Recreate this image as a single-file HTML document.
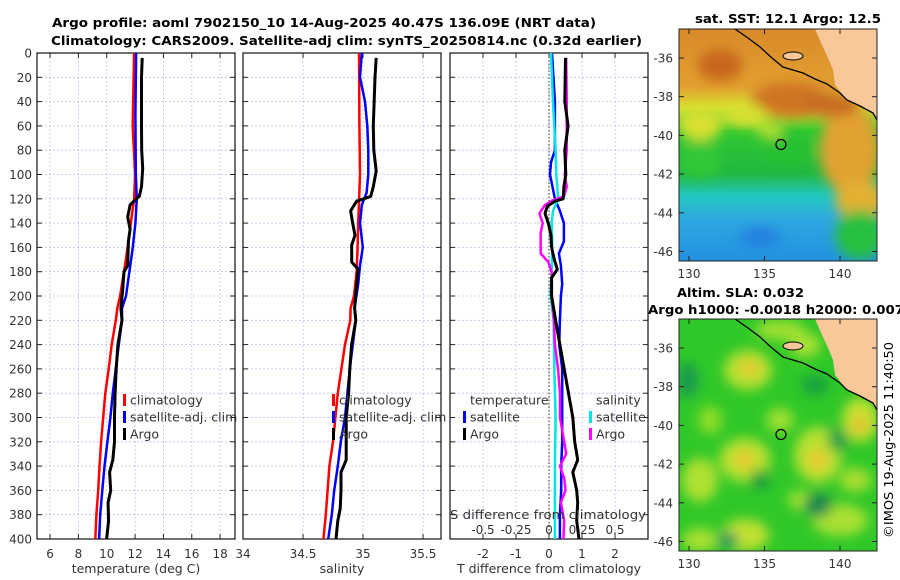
<!DOCTYPE html>
<html><head><meta charset="utf-8"><style>
html,body{margin:0;padding:0;background:#fff;}
svg{display:block;font-family:"DejaVu Sans","Liberation Sans",sans-serif;}
</style></head><body>
<svg id="fig" width="900" height="580" viewBox="0 0 900 580" xmlns="http://www.w3.org/2000/svg">
<defs>
<filter id="blur6" x="-20%" y="-20%" width="140%" height="140%"><feGaussianBlur stdDeviation="6"/></filter>
<clipPath id="clipTop"><rect x="679" y="29" width="198" height="232"/></clipPath>
<clipPath id="clipBot"><rect x="679" y="319" width="198" height="232"/></clipPath>
<linearGradient id="sstGrad" x1="0" y1="0" x2="0" y2="1">
<stop offset="0" stop-color="#d98a2a"/><stop offset="0.25" stop-color="#e2a030"/>
<stop offset="0.34" stop-color="#d8e030"/><stop offset="0.44" stop-color="#30c830"/>
<stop offset="0.62" stop-color="#22b840"/><stop offset="0.72" stop-color="#20c8c0"/>
<stop offset="0.82" stop-color="#30a8e0"/><stop offset="1" stop-color="#2290e0"/>
</linearGradient>
</defs>
<g id="titles">
<text x="52" y="27" font-size="12.5" font-weight="bold" textLength="544" lengthAdjust="spacingAndGlyphs">Argo profile: aoml 7902150_10 14-Aug-2025 40.47S 136.09E (NRT data)</text>
<text x="51" y="45" font-size="12.5" font-weight="bold" textLength="591" lengthAdjust="spacingAndGlyphs">Climatology: CARS2009. Satellite-adj clim: synTS_20250814.nc (0.32d earlier)</text>
<text x="695" y="23" font-size="12.5" font-weight="bold" textLength="186" lengthAdjust="spacingAndGlyphs">sat. SST: 12.1 Argo: 12.5</text>
<text x="677" y="297" font-size="12.5" font-weight="bold" textLength="127" lengthAdjust="spacingAndGlyphs">Altim. SLA: 0.032</text>
<text x="648" y="314" font-size="12.5" font-weight="bold" textLength="256" lengthAdjust="spacingAndGlyphs">Argo h1000: -0.0018 h2000: 0.007</text>
<text transform="translate(893,440) rotate(-90)" text-anchor="middle" font-size="12" textLength="196" lengthAdjust="spacingAndGlyphs">©IMOS 19-Aug-2025 11:40:50</text>
</g>
<g id="panels"></g>
<g id="maps"></g>
</svg>
<script>
// ---------- data ----------
const climDepth = [0,60,100,120,140,160,180,200,210,220,240,260,280,300,320,340,360,380,400];
const climTemp  = [11.93,11.83,12.0,11.93,11.7,11.48,11.22,10.94,10.75,10.64,10.35,10.14,9.9,9.75,9.6,9.49,9.4,9.27,9.19];
const satDepth  = [0,50,100,120,140,160,180,200,210,220,240,260,280,300,320,340,360,380,400];
const satTemp   = [12.07,12.02,12.05,12.12,12.02,11.84,11.6,11.36,11.08,11.08,10.85,10.64,10.43,10.26,10.05,9.84,9.69,9.54,9.46];
const argoTDepth= [4,20,60,80,95,110,118,121,125,135,145,155,175,180,195,210,220,240,260,280,300,320,335,345,360,370,385,400];
const argoTemp  = [12.5,12.45,12.45,12.47,12.54,12.45,12.3,12.0,11.65,11.48,11.65,11.53,11.48,11.22,11.13,11.0,11.08,10.79,10.67,10.59,10.55,10.55,10.43,10.2,10.28,10.1,10.13,9.99];

const climSDepth= [0,60,100,140,160,180,200,210,220,240,260,280,300,320,340,360,380,400];
const climSal   = [34.967,34.97,34.975,34.96,34.955,34.947,34.925,34.897,34.894,34.85,34.82,34.79,34.77,34.75,34.72,34.705,34.69,34.67];
const satSDepth = [0,20,40,60,80,100,115,125,140,160,175,190,210,220,240,260,280,300,320,340,360,380,400];
const satSal    = [34.99,34.975,35.017,35.036,35.044,35.044,35.03,34.99,34.975,34.998,34.975,34.96,34.93,34.94,34.915,34.89,34.87,34.85,34.815,34.79,34.76,34.74,34.71];
const argoSDepth= [4,20,60,80,97,110,118,122,130,140,150,158,172,178,190,210,220,240,260,280,300,320,335,345,360,375,385,400];
const argoSal   = [35.11,35.1,35.086,35.09,35.11,35.086,35.064,34.947,34.897,34.914,34.933,34.906,34.906,34.96,34.947,34.93,34.94,34.905,34.89,34.88,34.86,34.86,34.86,34.817,34.817,34.81,34.79,34.775];

const dTsatDepth = [0,40,80,90,100,120,130,140,155,165,175,190,200,220,240,260,280,300,320,340,360,380,400];
const dTsat      = [0.09,0.18,0.18,0.06,0.03,0.18,0.33,0.45,0.45,0.3,0.36,0.4,0.36,0.33,0.31,0.4,0.4,0.4,0.4,0.37,0.37,0.33,0.33];
const dTargoDepth= [4,40,60,80,100,110,120,122,126,132,140,150,160,170,178,185,200,220,240,260,280,300,320,335,345,360,370,385,400];
const dTargo     = [0.5,0.48,0.58,0.48,0.51,0.45,0.43,0.18,-0.05,-0.12,-0.02,0.06,0.08,0.16,0.25,0.08,0.08,0.2,0.33,0.46,0.59,0.72,0.78,0.87,0.72,0.84,0.87,0.84,0.91];
const dSsatDepth = [0,40,80,100,120,130,140,160,180,200,220,260,300,340,400];
const dSsat      = [0.015,0.03,0.05,0.055,0.07,0.03,0.02,0.025,0.02,0.012,0.035,0.04,0.05,0.045,0.045];
const dSargoDepth= [4,40,80,100,110,118,121,125,132,140,148,165,172,180,200,220,240,260,280,300,320,330,340,350,360,370,385,400];
const dSargo     = [0.13,0.134,0.134,0.12,0.134,0.114,0.033,-0.03,-0.073,-0.048,-0.063,-0.063,-0.005,0.02,0.02,0.038,0.045,0.068,0.083,0.083,0.115,0.13,0.083,0.115,0.125,0.09,0.115,0.109];

const depthTicks = [0,20,40,60,80,100,120,140,160,180,200,220,240,260,280,300,320,340,360,380,400];
const tempTicks = [6,8,10,12,14,16,18];
const salTicks = [34,34.5,35,35.5];
const salTickLabels = ['34','34.5','35','35.5'];
const dTTicks = [-2,-1,0,1,2];
const dSTicks = [-0.5,-0.25,0,0.25,0.5];
const dSTickLabels = ['-0.5','-0.25','0','0.25','0.5'];
const lonTicks = [130,135,140];
const latTicks = [-36,-38,-40,-42,-44,-46];
const argoLon = 136.09, argoLat = -40.47;

// ---------- helpers ----------
const NS='http://www.w3.org/2000/svg';
function mk(tag, attrs, parent){const e=document.createElementNS(NS,tag);for(const k in attrs)e.setAttribute(k,attrs[k]);parent.appendChild(e);return e;}
const Y0=53, Y1=539;
const yD = d => Y0 + d*(Y1-Y0)/400;
const panelsG=document.getElementById('panels');

function axis(x0,x1,lo,hi){return v => x0 + (v-lo)/(hi-lo)*(x1-x0);}
const xT = axis(37,235,5.08,19.05);
const xS = axis(243,441,34,35.65);
const xD = axis(450,648,-3,3);
const xDS = axis(450,648,-0.75,0.75);

function polyline(parent, depths, vals, xf, color, w, name){
  const pts = depths.map((d,i)=>xf(vals[i]).toFixed(1)+','+yD(d).toFixed(1)).join(' ');
  const p = mk('polyline',{points:pts,fill:'none',stroke:color,'stroke-width':w,'stroke-linejoin':'round'},parent);
  
  
}

function panel(name,x0,x1,xticks,xf,labels,xlabel,showY){
  const g=mk('g',{},panelsG);
  
  
  depthTicks.forEach(d=>{ if(d>0&&d<400) mk('line',{x1:x0,x2:x1,y1:yD(d),y2:yD(d),stroke:'#b8c0e8','stroke-width':0.8,'stroke-dasharray':'2,2'},g);});
  xticks.forEach(t=>{const x=xf(t); if(x>x0+1&&x<x1-1) mk('line',{x1:x,x2:x,y1:Y0,y2:Y1,stroke:'#b8c0e8','stroke-width':0.8,'stroke-dasharray':'2,2'},g);});
  depthTicks.forEach(d=>{mk('line',{x1:x0,x2:x0+5,y1:yD(d),y2:yD(d),stroke:'#222'},g);mk('line',{x1:x1,x2:x1-5,y1:yD(d),y2:yD(d),stroke:'#222'},g);});
  xticks.forEach(t=>{const x=xf(t);mk('line',{x1:x,x2:x,y1:Y1,y2:Y1-5,stroke:'#222'},g);mk('line',{x1:x,x2:x,y1:Y0,y2:Y0+5,stroke:'#222'},g);});
  mk('rect',{x:x0,y:Y0,width:x1-x0,height:Y1-Y0,fill:'none',stroke:'#222','stroke-width':1.3},g);
  xticks.forEach((t,i)=>{const tx=mk('text',{x:xf(t),y:558,'text-anchor':'middle','font-size':12,fill:'#333'},g);tx.textContent=labels[i];
    
    });
  const xl=mk('text',{x:(x0+x1)/2,y:573,'text-anchor':'middle','font-size':12.5,fill:'#333'},g);xl.textContent=xlabel;
  
  
  if(showY) depthTicks.forEach(d=>{const t=mk('text',{x:32,y:yD(d)+4.5,'text-anchor':'end','font-size':12,fill:'#333'},g);t.textContent=d;
    
    });
  return g;
}
function legendEntry(g,x,y,color,label,name){
  if(color) mk('rect',{x:x,y:y-6,width:3,height:12,fill:color},g);
  const t=mk('text',{x:x+(color?7:0),y:y+4.5,'font-size':12.5,fill:'#333'},g);t.textContent=label;
  
  
}

const g1=panel('temperature-panel',37,235,tempTicks,xT,tempTicks.map(String),'temperature (deg C)',true);
polyline(g1,climDepth,climTemp,xT,'#f00',2.5,'climatology-temperature-line');
polyline(g1,satDepth,satTemp,xT,'#00f',2.5,'satellite-temperature-line');
polyline(g1,argoTDepth,argoTemp,xT,'#000',3,'argo-temperature-line');
legendEntry(g1,123,400,'#f00','climatology','legend-climatology');
legendEntry(g1,123,417,'#00f','satellite-adj. clim','legend-satellite');
legendEntry(g1,123,434,'#000','Argo','legend-argo');

const g2=panel('salinity-panel',243,441,salTicks,xS,salTickLabels,'salinity',false);
polyline(g2,climSDepth,climSal,xS,'#f00',2.5,'climatology-salinity-line');
polyline(g2,satSDepth,satSal,xS,'#00f',2.5,'satellite-salinity-line');
polyline(g2,argoSDepth,argoSal,xS,'#000',3,'argo-salinity-line');
legendEntry(g2,332,400,'#f00','climatology','legend-climatology');
legendEntry(g2,332,417,'#00f','satellite-adj. clim','legend-satellite');
legendEntry(g2,332,434,'#000','Argo','legend-argo');

const g3=panel('difference-panel',450,648,dTTicks,xD,dTTicks.map(String),'T difference from climatology',false);
mk('line',{x1:xD(0),x2:xD(0),y1:Y0,y2:Y1,stroke:'#554','stroke-width':1.2,'stroke-dasharray':'1.5,2'},g3);
polyline(g3,dTsatDepth,dTsat,xD,'#00f',2.5,'satellite-t-diff-line');
polyline(g3,dSsatDepth,dSsat,xDS,'#00e5e5',2.5,'satellite-s-diff-line');
polyline(g3,dSargoDepth,dSargo,xDS,'#f0f',2.5,'argo-s-diff-line');
polyline(g3,dTargoDepth,dTargo,xD,'#000',3,'argo-t-diff-line');
legendEntry(g3,470,400,null,'temperature','legend-temperature-header');
legendEntry(g3,463,417,'#00f','satellite','legend-t-satellite');
legendEntry(g3,463,434,'#000','Argo','legend-t-argo');
legendEntry(g3,596,400,null,'salinity','legend-salinity-header');
legendEntry(g3,589,417,'#00e5e5','satellite','legend-s-satellite');
legendEntry(g3,589,434,'#f0f','Argo','legend-s-argo');
const sdt=mk('text',{x:450,y:519,'font-size':12.5,fill:'#333',textLength:196,lengthAdjust:'spacingAndGlyphs'},g3);sdt.textContent='S difference from climatology';


dSTicks.forEach((s,i)=>{const t=mk('text',{x:xDS(s),y:534,'text-anchor':'middle','font-size':12,fill:'#333'},g3);t.textContent=dSTickLabels[i];
  
  });

// ---------- maps ----------
const mapsG=document.getElementById('maps');
const mLon = lon => 689 + (lon-130)*15.1;
function mapFrame(top, latAt36, clip, name, kind){
  const mLat = lat => latAt36 + (-36-lat)*19.35;
  const g=mk('g',{},mapsG);
  
  
  const c=mk('g',{'clip-path':'url(#'+clip+')'},g);
  const dy = top-29;
  if(kind==='sst'){
    mk('rect',{x:679,y:top,width:198,height:232,fill:'url(#sstGrad)'},c);
    const b=mk('g',{filter:'url(#blur6)'},c);
    [[720,65,22,16,'#c8661c'],[790,100,40,18,'#cf7424'],[850,150,30,45,'#e2a232'],[860,200,25,20,'#e4b030'],[700,125,22,16,'#d8e030'],[745,115,22,12,'#d6e032'],[770,130,14,8,'#b8e030'],[860,235,25,25,'#28c040'],[700,160,22,18,'#30c838'],[790,150,25,15,'#28c030'],[760,237,20,10,'#2080e0'],[830,105,30,12,'#c86a20']].forEach(a=>mk('ellipse',{cx:a[0],cy:a[1],rx:a[2],ry:a[3],fill:a[4]},b));
  } else {
    mk('rect',{x:679,y:top,width:198,height:232,fill:'#30c828'},c);
    const b=mk('g',{filter:'url(#blur6)'},c);
    [[748,370,24,20,'#b8e030'],[750,368,10,8,'#e8c830'],[780,330,25,10,'#a0e030'],[745,460,26,22,'#b8e030'],[744,460,10,8,'#f0c830'],[818,455,24,28,'#b8e030'],[818,460,9,10,'#f0c830'],[700,480,18,22,'#b0e030'],[745,535,24,16,'#c0e030'],[860,420,18,22,'#c8e030'],[860,425,6,7,'#f0b030'],[805,345,16,12,'#a8e030'],[780,420,14,12,'#a0e030'],[840,520,28,16,'#a8e030'],[700,540,18,12,'#a8e030'],[855,480,16,12,'#a8e030'],[800,500,12,10,'#a0e030'],[710,420,12,14,'#90dc28']].forEach(a=>mk('ellipse',{cx:a[0],cy:a[1],rx:a[2],ry:a[3],fill:a[4]},b));
    [[688,380,10,18,'#189850'],[815,385,14,10,'#18a040'],[838,440,10,12,'#18a048'],[818,505,14,12,'#188850'],[728,540,10,8,'#109060'],[760,480,10,10,'#18a040']].forEach(a=>mk('ellipse',{cx:a[0],cy:a[1],rx:a[2],ry:a[3],fill:a[4]},b));
  }
  const land=[[815,29],[877,29],[877,118],[873,113],[847,100],[835,85],[833,70],[828,58],[822,45]].map(p=>p[0]+','+(p[1]+dy)).join(' ');
  mk('polygon',{points:land,fill:'#f8c898'},c);
  mk('ellipse',{cx:793,cy:56+dy,rx:10,ry:4,fill:'#f8c898',stroke:'#000','stroke-width':1},c);
  const coast=[[735,29],[748,38],[760,47],[772,58],[783,67],[803,73],[815,79],[827,84],[840,93],[847,100],[860,106],[873,113],[877,120]].map(p=>p[0]+','+(p[1]+dy)).join(' ');
  const cl=mk('polyline',{points:coast,fill:'none',stroke:'#000','stroke-width':1.3},c);
  
  
  const m=mk('circle',{cx:mLon(argoLon),cy:mLat(argoLat),r:5,fill:'none',stroke:'#000','stroke-width':1.2},g);
  
  
  mk('rect',{x:679,y:top,width:198,height:232,fill:'none',stroke:'#222','stroke-width':1},g);
  latTicks.forEach(lat=>{const y=mLat(lat);mk('line',{x1:679,x2:684,y1:y,y2:y,stroke:'#222'},g);mk('line',{x1:877,x2:872,y1:y,y2:y,stroke:'#222'},g);
    const t=mk('text',{x:673,y:y+4.5,'text-anchor':'end','font-size':12,fill:'#333'},g);t.textContent=lat;
    
    });
  lonTicks.forEach(lon=>{const x=mLon(lon);mk('line',{x1:x,x2:x,y1:top+232,y2:top+227,stroke:'#222'},g);mk('line',{x1:x,x2:x,y1:top,y2:top+5,stroke:'#222'},g);
    const t=mk('text',{x:x,y:top+249,'text-anchor':'middle','font-size':12,fill:'#333'},g);t.textContent=lon;
    
    });
}
mapFrame(29,58,'clipTop','sst-map','sst');
mapFrame(319,348,'clipBot','sla-map','sla');
</script>
</body></html>
